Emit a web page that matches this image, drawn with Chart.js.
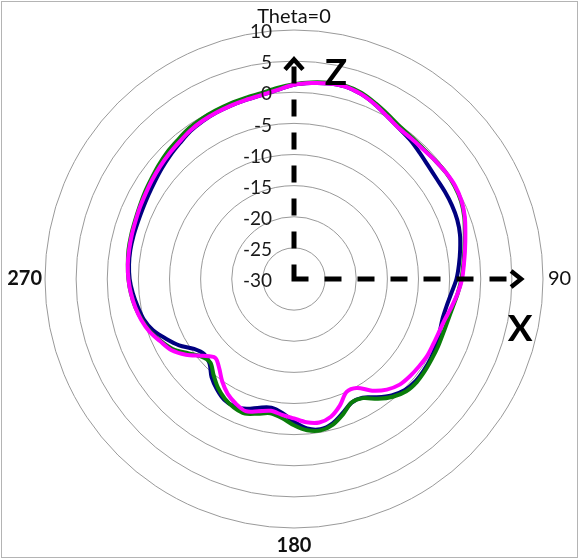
<!DOCTYPE html>
<html>
<head>
<meta charset="utf-8">
<script src="https://cdn.jsdelivr.net/npm/chart.js@4/dist/chart.umd.min.js"></script>
<style>
  body { margin: 0; background: #fff; }
</style>
</head>
<body>
<canvas id="polar" width="579" height="559"></canvas>
<script>
'use strict';

// angle (deg, clockwise from Z) for every sample
const angles = [0, 5, 10, 15, 20, 25, 30, 35, 40, 45, 50, 55, 60, 65, 70, 75, 80, 85,
  90, 95, 100, 105, 110, 115, 120, 125, 130, 135, 140, 145, 150, 155, 160, 165, 170, 175,
  180, 185, 190, 195, 200, 205, 210, 215, 220, 225, 230, 235, 240, 245, 250, 255, 260, 265,
  270, 275, 280, 285, 290, 295, 300, 305, 310, 315, 320, 325, 330, 335, 340, 345, 350, 355];

// only these angles get a label
const angleLabels = { 0: 'Theta=0', 90: '90', 180: '180', 270: '270' };

// radial ticks (dB)
const rMin = -30;
const rMax = 10;
const rStep = 5;

// gain values, one per angle
const navyGain = [1.2, 1.6, 1.9, 2.0, 1.6, 0.9, 0.1, -0.5, -0.9, -1.4, -1.8, -2.0, -2.0, -2.0, -2.1, -2.4, -2.9, -3.4,
  -3.9, -4.6, -5.1, -5.3, -5.1, -4.8, -4.6, -4.5, -4.5, -4.8, -5.6, -6.8, -8.0, -8.1, -7.1, -6.0, -5.5, -5.9,
  -7.1, -8.4, -9.0, -8.6, -7.8, -7.4, -7.6, -8.4, -9.4, -10.8, -11.2, -10.4, -8.7, -7.3, -5.9, -5.0, -4.5, -4.0,
  -3.6, -3.4, -3.3, -3.3, -3.3, -3.2, -3.0, -2.7, -2.3, -1.9, -1.5, -1.0, -0.7, -0.5, -0.35, -0.2, 0.0, 0.5];

const greenGain = [1.3, 1.7, 2.0, 2.1, 1.8, 1.1, 0.4, -0.2, -0.4, -0.5, -0.4, -0.2, -0.2, -0.4, -0.9, -1.6, -2.2, -2.7,
  -3.1, -3.6, -4.1, -4.4, -4.5, -4.45, -4.4, -4.3, -4.25, -4.5, -5.3, -6.5, -7.9, -8.1, -6.9, -5.8, -5.3, -5.6,
  -6.5, -7.6, -8.1, -7.6, -7.0, -7.2, -7.8, -8.7, -9.9, -11.0, -10.6, -9.2, -7.5, -6.4, -5.4, -4.7, -4.1, -3.7,
  -3.4, -3.2, -3.0, -2.9, -2.8, -2.6, -2.3, -2.0, -1.6, -1.2, -0.9, -0.5, -0.3, -0.15, 0.0, 0.1, 0.3, 0.8];

const magentaGain = [1.2, 1.6, 1.9, 2.0, 1.6, 0.9, 0.1, -0.5, -0.6, -0.6, -0.4, -0.2, -0.1, -0.3, -0.8, -1.5, -2.1, -2.6,
  -3.0, -3.6, -4.3, -4.9, -5.2, -5.3, -5.3, -5.5, -5.7, -6.0, -6.8, -8.1, -9.8, -10.0, -8.4, -7.1, -6.6, -6.9,
  -7.6, -8.1, -8.5, -8.0, -7.4, -7.9, -8.7, -9.9, -11.3, -12.1, -10.8, -8.8, -7.2, -6.3, -5.3, -4.6, -4.1, -3.7,
  -3.4, -3.2, -3.1, -3.0, -2.9, -2.7, -2.5, -2.2, -1.9, -1.6, -1.3, -0.9, -0.65, -0.5, -0.35, -0.2, 0.0, 0.5];

// where the dashed Z / X arrows end (dB on the radial scale)
const zArrowEnd = 5.6;
const xArrowEnd = 6.8;

const labelFont = 'Lato, "Open Sans", sans-serif';

// white page + thin gray frame
const framePlugin = {
  id: 'frame',
  beforeDraw(chart) {
    const ctx = chart.ctx;
    ctx.save();
    ctx.fillStyle = '#fff';
    ctx.fillRect(0, 0, chart.width, chart.height);
    ctx.strokeStyle = '#b4b4b4';
    ctx.lineWidth = 1;
    ctx.strokeRect(1.5, 1.5, chart.width - 3, chart.height - 3);
    ctx.restore();
  }
};

// radial tick labels sit left of the center line, right aligned
const tickPlugin = {
  id: 'tickLabels',
  afterDraw(chart) {
    const s = chart.scales.r;
    const ctx = chart.ctx;
    ctx.save();
    ctx.font = '19px ' + labelFont;
    ctx.fillStyle = '#1a1a1a';
    ctx.textAlign = 'right';
    ctx.textBaseline = 'middle';
    s.ticks.forEach(t => {
      const d = s.getDistanceFromCenterForValue(t.value);
      ctx.fillText(String(t.value), s.xCenter - 22, s.yCenter - d + 2);
    });
    ctx.restore();
  }
};

// dashed Z and X axes with arrow heads
const axesPlugin = {
  id: 'zxAxes',
  afterDatasetsDraw(chart) {
    const s = chart.scales.r;
    const ctx = chart.ctx;
    const c = { x: s.xCenter, y: s.yCenter };
    const zTip = s.getPointPositionForValue(angles.indexOf(0), zArrowEnd);
    const xTip = s.getPointPositionForValue(angles.indexOf(90), xArrowEnd);
    ctx.save();
    ctx.strokeStyle = '#000';
    ctx.lineWidth = 5;
    ctx.lineCap = 'butt';
    ctx.setLineDash([17, 16]);
    ctx.beginPath();
    ctx.moveTo(c.x, c.y + 2.5);
    ctx.lineTo(zTip.x, zTip.y + 4);
    ctx.moveTo(c.x - 2.5, c.y);
    ctx.lineTo(xTip.x - 4, xTip.y);
    ctx.stroke();
    ctx.setLineDash([]);
    ctx.lineWidth = 4.5;
    ctx.lineJoin = 'miter';
    ctx.beginPath();
    ctx.moveTo(zTip.x - 9, zTip.y + 12);
    ctx.lineTo(zTip.x, zTip.y + 2);
    ctx.lineTo(zTip.x + 9, zTip.y + 12);
    ctx.moveTo(xTip.x - 12, xTip.y - 8);
    ctx.lineTo(xTip.x - 2, xTip.y);
    ctx.lineTo(xTip.x - 12, xTip.y + 8);
    ctx.stroke();
    ctx.font = 'bold 37px ' + labelFont;
    ctx.fillStyle = '#000';
    ctx.textAlign = 'center';
    ctx.textBaseline = 'middle';
    ctx.fillText('Z', zTip.x + 42, zTip.y + 16);
    ctx.fillText('X', xTip.x - 3, xTip.y + 50);
    ctx.restore();
  }
};

// lower order is drawn on top
function makeSet(label, data, color, order) {
  return {
    label: label,
    data: data,
    borderColor: color,
    backgroundColor: 'transparent',
    borderWidth: 4,
    pointRadius: 0,
    fill: false,
    tension: 0.3,
    order: order
  };
}

const ctx = document.getElementById('polar');
const chart = new Chart(ctx, {
  type: 'radar',
  data: {
    labels: angles.map(a => angleLabels[a] || ''),
    datasets: [
      makeSet('navy', navyGain, '#000080', 3),
      makeSet('green', greenGain, '#0a7d0a', 2),
      makeSet('magenta', magentaGain, '#ff00ff', 1)
    ]
  },
  options: {
    responsive: false,
    animation: false,
    devicePixelRatio: 1,
    layout: { padding: { top: 5, bottom: 0, left: 0, right: 0 } },
    plugins: {
      legend: { display: false },
      tooltip: { enabled: false }
    },
    scales: {
      r: {
        min: rMin,
        max: rMax,
        ticks: { stepSize: rStep, display: false },
        grid: { circular: true, color: '#9a9a9a', lineWidth: 1 },
        angleLines: { display: false },
        pointLabels: {
          color: '#111',
          padding: c => c.label === '180' ? 8 : (c.label === '90' ? 5 : 3),
          font: c => ({
            family: labelFont,
            size: 20,
            lineHeight: 1,
            weight: (c.label === '270' || c.label === '180') ? 'bold' : 'normal'
          })
        }
      }
    }
  },
  plugins: [framePlugin, tickPlugin, axesPlugin]
});
</script>
</body>
</html>
